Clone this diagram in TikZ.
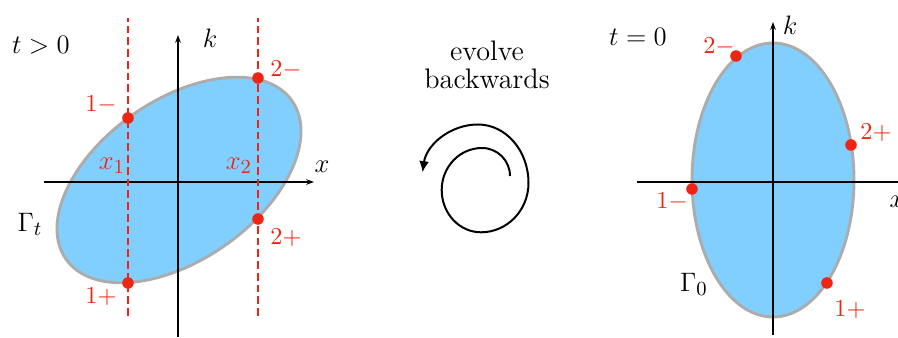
\documentclass[tikz,border=0pt]{standalone}
\usepackage{amsmath, amssymb}
\usetikzlibrary{arrows.meta, positioning, calc}
\definecolor{pointred}{RGB}{238,36,20}
\definecolor{setblue}{RGB}{128,207,255}
\definecolor{rimgray}{RGB}{172,172,172}

\begin{document}
\begin{tikzpicture}[x=0.45pt, y=0.45pt, >=Stealth,
            every node/.style={font=\fontsize{12.7}{12.7}\selectfont},
            axis/.style={->, line width=0.5pt, >={Stealth[length=3.5pt, width=2.5pt]}},
            cut/.style={draw=pointred, line width=1.3pt, dash pattern=on 3.5pt off 1.8pt},
            region/.style={fill=setblue, draw=rimgray, line width=1.3pt},
            pt/.style={circle, fill=pointred, inner sep=0pt, minimum size=5.2pt},
            lbl/.style={text=pointred, font=\fontsize{10.6}{12}\selectfont}]
          \useasboundingbox (0,0) rectangle (898,338);
          % left panel, t > 0
          \draw[region, rotate around={35:(179,158)}] (179,158) ellipse [x radius=138, y radius=80];
          \coordinate (xl0) at (44,156);
          \coordinate (xl1) at (314,156);
          \coordinate (kl0) at (178,1);
          \coordinate (kl1) at (178,303);
          \draw[axis] (xl0) -- (xl1);
          \draw[axis] (kl0) -- (kl1);
          \node (xlab) at (322,171) {$x$};
          \node (klab) at (210,300) {$k$};
          \coordinate (c1b) at (128,22);
          \coordinate (c1t) at (128,320);
          \coordinate (c2b) at (258,22);
          \coordinate (c2t) at (258,320);
          \draw[cut] (c1b) -- (c1t);
          \draw[cut] (c2b) -- (c2t);
          \node[pt] (p1m) at (128,220) {};
          \node[pt] (p1p) at (128,55) {};
          \node[pt] (p2m) at (258,260) {};
          \node[pt] (p2p) at (258,119) {};
          \node[lbl] (l1m) at (101,233) {$1-$};
          \node[lbl] (l1p) at (101,41) {$1+$};
          \node[lbl] (l2m) at (286,268) {$2-$};
          \node[lbl] (l2p) at (286,100) {$2+$};
          \node[lbl, font=\fontsize{12.7}{12.7}\selectfont] (x1) at (112,172) {$x_1$};
          \node[lbl, font=\fontsize{12.7}{12.7}\selectfont] (x2) at (239,172) {$x_2$};
          \node (tl) at (41,293) {$t>0$};
          \node (gt) at (30,114) {$\Gamma_t$};
          % middle
          \node[align=center] (evolve) at (487,273) {evolve\\backwards};
          \coordinate (sp) at (510,162);
          \draw[line width=0.9pt, -{Latex[length=5pt, width=4.5pt]}] (sp)
            arc[start angle=0, end angle=90, x radius=28, y radius=28]
            arc[start angle=90, end angle=180, x radius=40.3, y radius=42]
            arc[start angle=180, end angle=270, x radius=39.3, y radius=42.3]
            arc[start angle=270, end angle=360, x radius=47.5, y radius=49.3]
            arc[start angle=0, end angle=90, x radius=50.5, y radius=58.5]
            arc[start angle=90, end angle=172, x radius=56, y radius=55.5];
          % right panel, t = 0
          \draw[region] (773,158) ellipse [x radius=81, y radius=137];
          \coordinate (xr0) at (637,156);
          \coordinate (xr1) at (906,156);
          \coordinate (kr0) at (773,3);
          \coordinate (kr1) at (773,316);
          \draw[axis] (xr0) -- (xr1);
          \draw[axis] (kr0) -- (kr1);
          \node (xlabr) at (897,136) {$x$};
          \node (klabr) at (790,313) {$k$};
          \node[pt] (q2m) at (736,282) {};
          \node[pt] (q2p) at (851,193) {};
          \node[pt] (q1m) at (692,149) {};
          \node[pt] (q1p) at (827,55) {};
          \node[lbl] (r2m) at (719,291) {$2-$};
          \node[lbl] (r2p) at (876,205) {$2+$};
          \node[lbl] (r1m) at (672,136) {$1-$};
          \node[lbl] (r1p) at (850,28) {$1+$};
          \node (tr) at (638,301) {$t=0$};
          \node (g0) at (694,54) {$\Gamma_0$};
        \end{tikzpicture}
\end{document}
